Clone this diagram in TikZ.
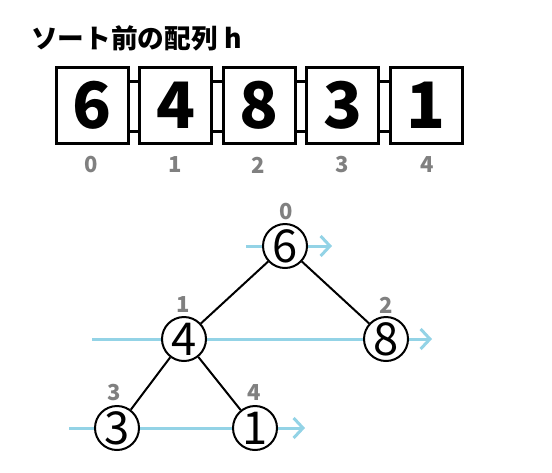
\documentclass[tikz,border=0pt]{standalone}
\usepackage{fontspec}
\setmainfont{Noto Sans CJK JP}
\usetikzlibrary{arrows.meta,calc}
\definecolor{idxgray}{RGB}{128,128,128}
\definecolor{scanblue}{RGB}{147,211,230}
\tikzset{
  cell/.style={draw,line width=2.25pt,minimum width=54pt,minimum height=57pt,inner sep=0pt,
    font=\fontsize{48}{48}\selectfont\bfseries},
  heapnode/.style={draw,circle,line width=1.5pt,fill=white,minimum size=33pt,inner sep=0pt,
    font=\fontsize{34}{34}\selectfont},
  idx/.style={text=idxgray,inner sep=0pt,font=\fontsize{16.5}{16.5}\selectfont\bfseries},
  scan/.style={scanblue,line width=2.25pt,-{Straight Barb[length=7pt,width=15pt,line width=2.25pt]}},
  link/.style={line width=1.5pt}
}
\begin{document}
\begin{tikzpicture}[x=0.75pt,y=-0.75pt]
\useasboundingbox (0,0) rectangle (552,472);
\node[anchor=west,inner sep=0pt,font=\fontsize{20}{20}\selectfont\bfseries] (title) at (31,38) {ソート前の配列 h};
\node[cell] (b0) at (92,105.5) {6};
\node[cell] (b1) at (175.5,105.5) {4};
\node[cell] (b2) at (259,105.5) {8};
\node[cell] (b3) at (342.5,105.5) {3};
\node[cell] (b4) at (426,105.5) {1};
\draw[line width=2.25pt] ($(b0.east)+(0,-24)$) -- ($(b1.west)+(0,-24)$);
\draw[line width=2.25pt] ($(b0.east)+(0,26)$) -- ($(b1.west)+(0,26)$);
\draw[line width=2.25pt] ($(b1.east)+(0,-24)$) -- ($(b2.west)+(0,-24)$);
\draw[line width=2.25pt] ($(b1.east)+(0,26)$) -- ($(b2.west)+(0,26)$);
\draw[line width=2.25pt] ($(b2.east)+(0,-24)$) -- ($(b3.west)+(0,-24)$);
\draw[line width=2.25pt] ($(b2.east)+(0,26)$) -- ($(b3.west)+(0,26)$);
\draw[line width=2.25pt] ($(b3.east)+(0,-24)$) -- ($(b4.west)+(0,-24)$);
\draw[line width=2.25pt] ($(b3.east)+(0,26)$) -- ($(b4.west)+(0,26)$);
\node[idx] (i0) at (91,165) {0};
\node[idx] (i1) at (175,165) {1};
\node[idx] (i2) at (258,165) {2};
\node[idx] (i3) at (342,165) {3};
\node[idx] (i4) at (427,165) {4};
\coordinate (s0) at (246,246);
\coordinate (e0) at (332,246);
\coordinate (s1) at (92,339);
\coordinate (e1) at (432,339);
\coordinate (s2) at (69,428);
\coordinate (e2) at (305,428);
\draw[scan] (s0) -- (e0);
\draw[scan] (s1) -- (e1);
\draw[scan] (s2) -- (e2);
\node[heapnode] (h0) at (285,246) {6};
\node[heapnode] (h1) at (184,339) {4};
\node[heapnode] (h2) at (386,339) {8};
\node[heapnode] (h3) at (117,428) {3};
\node[heapnode] (h4) at (255,428) {1};
\draw[link] (h0) -- (h1);
\draw[link] (h0) -- (h2);
\draw[link] (h1) -- (h3);
\draw[link] (h1) -- (h4);
\node[idx] (t0) at (286,212) {0};
\node[idx] (t1) at (183,305) {1};
\node[idx] (t2) at (386,305) {2};
\node[idx] (t3) at (114,393) {3};
\node[idx] (t4) at (254,393) {4};
\end{tikzpicture}
\end{document}
